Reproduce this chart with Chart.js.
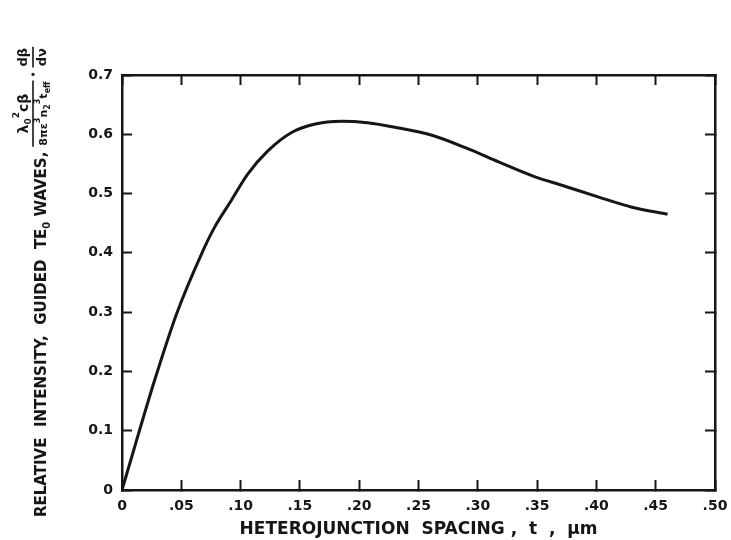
<!DOCTYPE html>
<html>
<head>
<meta charset="utf-8">
<script src="https://cdn.jsdelivr.net/npm/chart.js@4"></script>
<style>
html, body { margin: 0; padding: 0; background: #fff; }
</style>
</head>
<body>
<canvas id="chart" width="731" height="540" style="width:731px;height:540px"></canvas>
<script>
// heterojunction spacing t (um) and relative intensity of guided TE0 waves
const spacing   = [0, 0.0275, 0.046, 0.067, 0.078, 0.092, 0.106, 0.123, 0.143, 0.162, 0.185, 0.207, 0.230, 0.262, 0.290, 0.318, 0.346, 0.374, 0.402, 0.430, 0.460];
const intensity = [0, 0.185, 0.297, 0.398, 0.443, 0.488, 0.533, 0.572, 0.603, 0.617, 0.622, 0.6195, 0.612, 0.598, 0.577, 0.553, 0.530, 0.512, 0.494, 0.477, 0.465];

const xTickLabels = ['0', '.05', '.10', '.15', '.20', '.25', '.30', '.35', '.40', '.45', '.50'];
const yTickLabels = ['0', '0.1', '0.2', '0.3', '0.4', '0.5', '0.6', '0.7'];

const ink = '#161616';
const face = '"DejaVu Sans", sans-serif';

// rotated y axis title with the formula, drawn as text
const yTitle = {
    id: 'yTitle',
    afterDraw(chart) {
        const ctx = chart.ctx;
        ctx.save();
        ctx.translate(0, 517);
        ctx.rotate(-Math.PI / 2);
        ctx.fillStyle = ink;
        ctx.strokeStyle = ink;
        ctx.textBaseline = 'middle';
        ctx.textAlign = 'left';

        const width = (parts) => {
            let w = 0;
            for (const p of parts) { ctx.font = 'bold ' + p.s + 'px ' + face; w += ctx.measureText(p.t).width; }
            return w;
        };
        const run = (parts, u, v) => {
            for (const p of parts) {
                ctx.font = 'bold ' + p.s + 'px ' + face;
                ctx.fillText(p.t, u, v + (p.dv || 0));
                u += ctx.measureText(p.t).width;
            }
            return u;
        };

        let u = run([
            {t: 'RELATIVE  INTENSITY,  GUIDED  TE', s: 15},
            {t: '0', s: 10, dv: 5},
            {t: ' WAVES,', s: 15}
        ], 0, 42);

        // fraction  λ0² c β / (8π ε³ n2³ t_eff)
        const num = [{t: 'λ', s: 14}, {t: '0', s: 9, dv: 5}, {t: '2', s: 9, dv: -7}, {t: 'cβ', s: 14}];
        const den = [{t: '8π', s: 11}, {t: 'ε', s: 11}, {t: '3', s: 8, dv: -6}, {t: 'n', s: 11}, {t: '2', s: 8, dv: 4}, {t: '3', s: 8, dv: -6}, {t: 't', s: 11}, {t: 'eff', s: 8, dv: 4}];
        const u0 = u + 5;
        const fw = Math.max(width(num), width(den)) + 2;
        run(num, u0 + (fw - width(num)) / 2, 24);
        run(den, u0 + (fw - width(den)) / 2, 44);
        ctx.lineWidth = 1.6;
        ctx.beginPath(); ctx.moveTo(u0, 33); ctx.lineTo(u0 + fw, 33); ctx.stroke();

        // dot and dβ/dν
        const u1 = u0 + fw + 4;
        ctx.beginPath(); ctx.arc(u1 + 2, 33, 1.6, 0, Math.PI * 2); ctx.fill();
        const dn = [{t: 'dβ', s: 13}];
        const dd = [{t: 'dν', s: 13}];
        const u2 = u1 + 9;
        const dw = Math.max(width(dn), width(dd)) + 2;
        run(dn, u2 + (dw - width(dn)) / 2, 24);
        run(dd, u2 + (dw - width(dd)) / 2, 43);
        ctx.beginPath(); ctx.moveTo(u2, 33); ctx.lineTo(u2 + dw, 33); ctx.stroke();

        ctx.restore();
    }
};

const tickGrid = {
    drawOnChartArea: false,
    drawTicks: true,
    tickLength: -10,
    tickColor: ink,
    tickWidth: 2
};
const frame = { display: true, color: ink, width: 2.5 };

new Chart(document.getElementById('chart'), {
    type: 'line',
    data: {
        datasets: [{
            data: spacing.map((t, i) => ({x: t, y: intensity[i]})),
            borderColor: ink,
            borderWidth: 3,
            pointRadius: 0,
            fill: false,
            cubicInterpolationMode: 'monotone'
        }]
    },
    options: {
        responsive: false,
        animation: false,
        layout: { padding: { left: 50, right: 16, top: 75, bottom: 0 } },
        plugins: { legend: { display: false }, tooltip: { enabled: false } },
        scales: {
            x: {
                type: 'linear', position: 'bottom', min: 0, max: 0.5,
                afterFit(s) { s.height = 50; s.paddingLeft = 0; s.paddingRight = 0; },
                grid: tickGrid, border: frame,
                ticks: {
                    stepSize: 0.05, padding: 18, color: ink,
                    font: { family: face, size: 14, weight: 'bold' },
                    maxRotation: 0, autoSkip: false,
                    callback: (v) => xTickLabels[Math.round(v / 0.05)]
                },
                title: {
                    display: true, text: 'HETEROJUNCTION  SPACING ,  t  ,  μm', color: ink,
                    font: { family: face, size: 17, weight: 'bold' },
                    padding: { top: 0, bottom: 0 }
                }
            },
            x2: {
                type: 'linear', position: 'top', min: 0, max: 0.5,
                afterFit(s) { s.height = 0; s.paddingLeft = 0; s.paddingRight = 0; },
                grid: tickGrid, border: frame,
                ticks: { stepSize: 0.05, display: false }
            },
            y: {
                type: 'linear', position: 'left', min: 0, max: 0.7,
                afterFit(s) { s.width = 72; s.paddingTop = 0; s.paddingBottom = 0; },
                grid: tickGrid, border: frame,
                ticks: {
                    stepSize: 0.1, padding: 19, color: ink,
                    font: { family: face, size: 14, weight: 'bold' },
                    callback: (v) => yTickLabels[Math.round(v / 0.1)]
                }
            },
            y2: {
                type: 'linear', position: 'right', min: 0, max: 0.7,
                afterFit(s) { s.width = 0; s.paddingTop = 0; s.paddingBottom = 0; },
                grid: tickGrid, border: frame,
                ticks: { stepSize: 0.1, display: false }
            }
        }
    },
    plugins: [yTitle]
});
</script>
</body>
</html>
